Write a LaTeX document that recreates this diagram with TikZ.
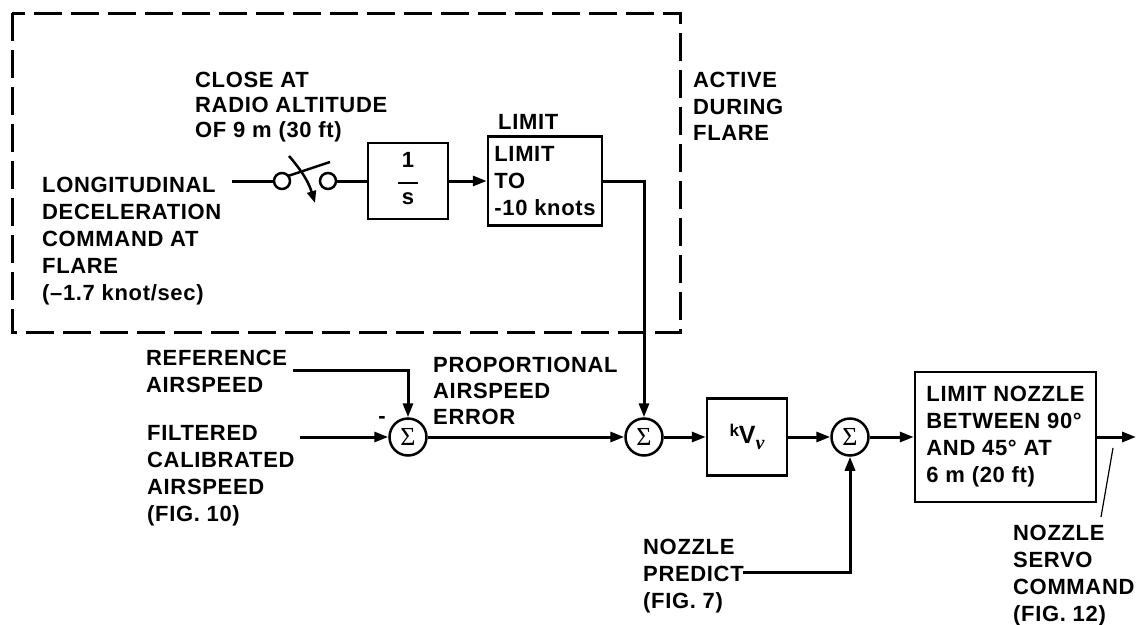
\documentclass[tikz,border=0pt]{standalone}
\usepackage{fontspec}
\setmainfont{Liberation Sans}[LetterSpace=3]
\newfontfamily\grk{Liberation Serif}
\usetikzlibrary{arrows.meta,calc}
\tikzset{
  lbl/.style={font=\fontsize{22}{27}\selectfont\bfseries, align=left, inner sep=0pt, anchor=north west},
  blk/.style={draw, line width=2.5pt, inner sep=4pt, font=\fontsize{22}{27}\selectfont\bfseries, align=left},
  sumn/.style={draw, circle, line width=2.5pt, minimum size=37pt, inner sep=0pt, font=\grk\fontsize{26}{26}\selectfont},
  swc/.style={draw, circle, line width=2.5pt, minimum size=16pt, inner sep=0pt},
  wire/.style={line width=3pt},
  conn/.style={line width=3pt, -{Triangle[length=14pt,width=10pt]}},
}
\begin{document}
\begin{tikzpicture}[x=1pt,y=-1pt]
\useasboundingbox (0,0) rectangle (1138,624);
% dashed region
\draw[line width=3pt, dash pattern=on 28pt off 9pt] (12,13) rectangle (680,332);
% texts
\node[lbl] (long) at (42,177) {LONGITUDINAL\\DECELERATION\\COMMAND AT\\FLARE\\(--1.7 knot/sec)};
\node[lbl, font=\fontsize{22}{25}\selectfont\bfseries] (close) at (195,72) {CLOSE AT\\RADIO ALTITUDE\\OF 9 m (30 ft)};
\node[lbl, font=\fontsize{22}{26.5}\selectfont\bfseries] (active) at (693,72) {ACTIVE\\DURING\\FLARE};
\node[lbl] (limlbl) at (498,114) {LIMIT};
\node[lbl] (ref) at (146,350) {REFERENCE\\AIRSPEED};
\node[lbl] (filt) at (147,425) {FILTERED\\CALIBRATED\\AIRSPEED\\(FIG. 10)};
\node[lbl, font=\fontsize{22}{26}\selectfont\bfseries] (prop) at (433,357) {PROPORTIONAL\\AIRSPEED\\ERROR};
\node[lbl, anchor=center] (minus) at (382,420) {-};
\node[lbl] (noz) at (643,539) {NOZZLE\\PREDICT\\(FIG. 7)};
\node[lbl] (serv) at (1013,525) {NOZZLE\\SERVO\\COMMAND\\(FIG. 12)};
% switch
\node[swc] (c1) at (282,181) {};
\node[swc] (c2) at (328,181) {};
\coordinate (lin) at (232,181);
\coordinate (bladeA) at (288,176);
\coordinate (bladeB) at (330,162);
\coordinate (swA) at (289,156);
\coordinate (swB) at (315,203);
% blocks
\node[blk, minimum width=80pt, minimum height=76pt, align=center] (integ) at (408,181)
  {\begin{tabular}{@{}c@{}}1\\[-11pt]\rule{20pt}{1.5pt}\\[-6pt]s\end{tabular}};
\node[blk, minimum width=114pt, minimum height=89pt] (lim) at (545,181) {LIMIT\\TO\\-10 knots};
\node[sumn] (sum1) at (408,437) {Σ};
\node[sumn] (sum2) at (644,437) {Σ};
\node[blk, minimum width=80pt, minimum height=77pt, align=center] (kv) at (747,437)
  {\raisebox{7pt}{\fontsize{17}{17}\selectfont k}\fontsize{25}{25}\selectfont V\raisebox{-6pt}{\fontsize{20}{20}\selectfont\grk\itshape ν}};
\node[sumn] (sum3) at (850,437) {Σ};
\node[blk, minimum width=181pt, minimum height=130pt] (nbox) at (1005.5,437) {LIMIT NOZZLE\\BETWEEN 90°\\AND 45° AT\\6 m (20 ft)};
% coordinates for free ends
\coordinate (refend) at (293,370);
\coordinate (filtend) at (300,437);
\coordinate (nozend) at (743,572);
\coordinate (outend) at (1136,437);
\coordinate (ptrA) at (1113,448);
\coordinate (ptrB) at (1101,517);
% connectors
\draw[wire] (lin) -- (c1.west);
\draw[line width=2.5pt] (bladeA) -- (bladeB);
\draw[line width=2.5pt, -{Triangle[length=12pt,width=9pt]}] (swA) to[bend left=12] (swB);
\draw[wire] (c2.east) -- (integ.west);
\draw[conn] (integ.east) -- (lim.west);
\draw[conn] (lim.east) -| (sum2.north);
\draw[conn] (refend) -| (sum1.north);
\draw[conn] (filtend) -- (sum1.west);
\draw[conn] (sum1.east) -- (sum2.west);
\draw[conn] (sum2.east) -- (kv.west);
\draw[conn] (kv.east) -- (sum3.west);
\draw[conn] (nozend) -| (sum3.south);
\draw[conn] (sum3.east) -- (nbox.west);
\draw[conn] (nbox.east) -- (outend);
\draw[line width=1.2pt] (ptrA) -- (ptrB);
\end{tikzpicture}
\end{document}
